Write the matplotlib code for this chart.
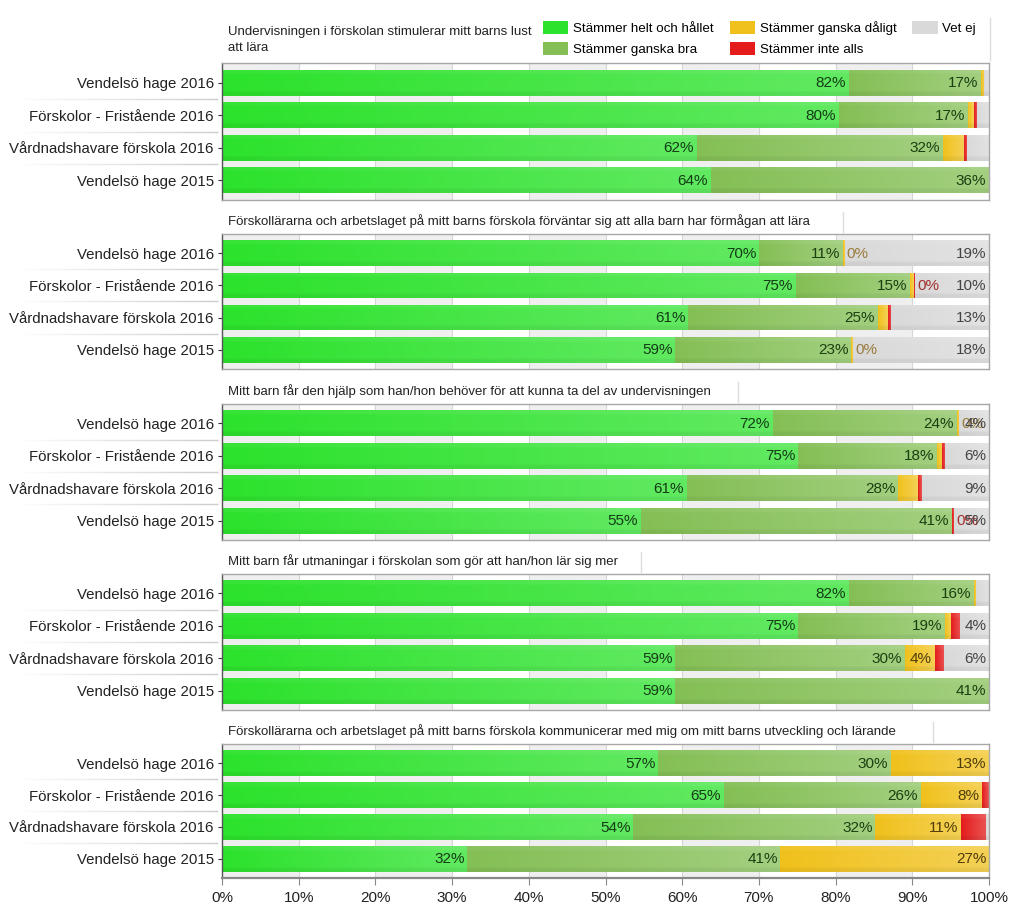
import numpy as np
import matplotlib
matplotlib.use("Agg")
import matplotlib.pyplot as plt
from matplotlib.patches import Patch
from matplotlib.transforms import blended_transform_factory
from matplotlib.collections import LineCollection
from matplotlib.colors import to_rgb

plt.rcParams['font.family'] = ['Liberation Sans', 'DejaVu Sans']

# ---------------- data ----------------
categories = ["Vendelsö hage 2016", "Förskolor - Fristående 2016",
              "Vårdnadshavare förskola 2016", "Vendelsö hage 2015"]
series_names = ["Stämmer helt och hållet", "Stämmer ganska bra",
                "Stämmer ganska dåligt", "Stämmer inte alls", "Vet ej"]

titles = [
    "Undervisningen i förskolan stimulerar mitt barns lust\natt lära",
    "Förskollärarna och arbetslaget på mitt barns förskola förväntar sig att alla barn har förmågan att lära",
    "Mitt barn får den hjälp som han/hon behöver för att kunna ta del av undervisningen",
    "Mitt barn får utmaningar i förskolan som gör att han/hon lär sig mer",
    "Förskollärarna och arbetslaget på mitt barns förskola kommunicerar med mig om mitt barns utveckling och lärande",
]

# values per question (rows follow `categories`)
q1_helt   = [81.7, 80.4, 61.9, 63.7]
q1_bra    = [17.2, 16.9, 32.1, 36.3]
q1_daligt = [0.4, 0.7, 2.7, 0.0]
q1_inte   = [0.0, 0.5, 0.4, 0.0]
q1_vetej  = [0.7, 1.5, 2.9, 0.0]

q2_helt   = [70.0, 74.8, 60.8, 59.1]
q2_bra    = [10.9, 14.9, 24.7, 22.9]
q2_daligt = [0.3, 0.5, 1.3, 0.3]
q2_inte   = [0.0, 0.2, 0.4, 0.0]
q2_vetej  = [18.8, 9.6, 12.8, 17.7]

q3_helt   = [71.8, 75.1, 60.6, 54.6]
q3_bra    = [24.0, 18.1, 27.6, 40.6]
q3_daligt = [0.3, 0.7, 2.5, 0.0]
q3_inte   = [0.0, 0.4, 0.5, 0.3]
q3_vetej  = [3.9, 5.7, 8.8, 4.5]

q4_helt   = [81.7, 75.1, 59.1, 59.1]
q4_bra    = [16.3, 19.2, 29.9, 40.9]
q4_daligt = [0.3, 0.7, 3.9, 0.0]
q4_inte   = [0.0, 1.2, 1.2, 0.0]
q4_vetej  = [1.7, 3.8, 5.9, 0.0]

q5_helt   = [56.9, 65.4, 53.6, 32.0]
q5_bra    = [30.3, 25.7, 31.6, 40.8]
q5_daligt = [12.8, 8.0, 11.1, 27.2]
q5_inte   = [0.0, 0.9, 3.3, 0.0]
q5_vetej  = [0.0, 0.0, 0.4, 0.0]

questions = [
    [q1_helt, q1_bra, q1_daligt, q1_inte, q1_vetej],
    [q2_helt, q2_bra, q2_daligt, q2_inte, q2_vetej],
    [q3_helt, q3_bra, q3_daligt, q3_inte, q3_vetej],
    [q4_helt, q4_bra, q4_daligt, q4_inte, q4_vetej],
    [q5_helt, q5_bra, q5_daligt, q5_inte, q5_vetej],
]

# small segments that still carry a "0%" label (question, row, series)
zero_labels = [(1, 0, 2), (1, 1, 3), (1, 3, 2), (2, 0, 2), (2, 3, 3)]

xticks = list(range(0, 101, 10))
xticklabels = [f"{t}%" for t in xticks]

# ---------------- style ----------------
series_colors = ["#2ce22c", "#84bf55", "#f0c11c", "#e41c1c", "#d9d9d9"]
label_colors = ["#143c16", "#1c3f12", "#4f3c0a", "#6e1414", "#444444"]
zero_colors = {2: "#9a7b3c", 3: "#a3302c"}

W, H = 1024, 917
fig = plt.figure(figsize=(W / 100, H / 100), dpi=100)
fig.patch.set_facecolor("white")

ax_left, ax_right = 222, 989
panel_tops = [63, 234, 404, 574, 744]
panel_bottoms = [200, 369, 540, 710, 878]
sep_x = [990, 843, 738, 641, 933]


def lighten(c, t):
    r = np.array(to_rgb(c))
    return r + (1 - r) * t


def gradient_img(c):
    n = 64
    h = np.linspace(0, 1, n)
    v = np.linspace(0, 1, 12)
    img = np.zeros((len(v), n, 4))
    for k, vv in enumerate(v):
        for m, hh in enumerate(h):
            t = 0.25 * hh + (0.05 if vv < 0.15 else 0.0)
            col = lighten(c, t)
            if vv > 0.9:
                col = col * 0.95
            img[k, m, :3] = col
            img[k, m, 3] = 1.0
    return img


grad_cache = {c: gradient_img(c) for c in series_colors}

axes = []
for qi, vals in enumerate(questions):
    top, bot = panel_tops[qi], panel_bottoms[qi]
    ax = fig.add_axes([ax_left / W, 1 - bot / H, (ax_right - ax_left) / W, (bot - top) / H])
    axes.append(ax)
    ax.set_facecolor("white")
    for k in range(0, 100, 20):
        ax.axvspan(k, k + 10, color="#efefef", zorder=0, lw=0)
    for t in xticks:
        ax.axvline(t, color="#d6d6d6", lw=0.8, zorder=0.5)

    left = np.zeros(len(categories))
    bh = 0.8
    for j, series in enumerate(vals):
        series = np.array(series, dtype=float)
        bars = ax.barh(np.arange(len(categories)), series, left=left, height=bh,
                       color=series_colors[j], edgecolor="none", zorder=2)
        for i, (p, v) in enumerate(zip(bars.patches, series)):
            if v <= 0:
                continue
            im = ax.imshow(grad_cache[series_colors[j]], extent=[left[i], left[i] + v, i + bh / 2, i - bh / 2],
                           aspect="auto", zorder=2.5, interpolation="bilinear")
            im.set_clip_path(p)
            if v >= 3.5:
                ax.text(left[i] + v - 0.35, i + 0.02, f"{int(v + 0.5)}%", ha="right", va="center",
                        fontsize=11, color=label_colors[j], zorder=5)
            if (qi, i, j) in zero_labels:
                ax.text(left[i] + v + 0.25, i + 0.02, f"{int(v + 0.5)}%", ha="left", va="center",
                        fontsize=11, color=zero_colors[j], zorder=5)
        left += series

    ax.set_xlim(0, 100)
    ax.set_ylim(len(categories) - 0.4, -0.6)
    ax.set_yticks(np.arange(len(categories)))
    ax.set_yticklabels(categories)
    ax.tick_params(axis="y", length=3, width=0.8, color="#333333", labelsize=10.8,
                   labelcolor="#222222", pad=3)
    ax.set_xticks(xticks)
    if qi == len(questions) - 1:
        ax.set_xticklabels(xticklabels)
        ax.tick_params(axis="x", length=5, width=0.8, color="#888888", labelsize=11,
                       labelcolor="#222222", pad=4)
    else:
        ax.set_xticklabels([])
        ax.tick_params(axis="x", length=0)
    for s in ["top", "right", "bottom"]:
        ax.spines[s].set_color("#a8a8a8")
        ax.spines[s].set_linewidth(1.0)
    ax.spines["left"].set_color("#555555")
    ax.spines["left"].set_linewidth(1.0)
    if qi == len(questions) - 1:
        ax.spines["bottom"].set_color("#888888")
        ax.spines["bottom"].set_linewidth(1.6)

    # faint separators between category labels
    tr = blended_transform_factory(fig.transFigure, ax.transData)
    xs = np.linspace(20 / W, 218 / W, 31)
    for b in range(len(categories) - 1):
        yb = b + 0.5
        segs = [[(xs[k], yb), (xs[k + 1], yb)] for k in range(len(xs) - 1)]
        alphas = np.linspace(0.05, 1.0, len(segs))
        cols = [(0.80, 0.80, 0.80, a) for a in alphas]
        lc = LineCollection(segs, colors=cols, linewidths=1.0, transform=tr, clip_on=False)
        ax.add_collection(lc)

    # question title
    if qi == 0:
        fig.text(228 / W, 1 - 40 / H, titles[qi], fontsize=9.5, va="center", ha="left",
                 color="#222222", linespacing=1.4)
        fig.add_artist(plt.Line2D([sep_x[qi] / W] * 2, [1 - 18 / H, 1 - 60 / H],
                                  color="#dddddd", lw=1))
    else:
        fig.text(228 / W, 1 - (top - 13) / H, titles[qi], fontsize=9.5, va="center", ha="left",
                 color="#222222")
        fig.add_artist(plt.Line2D([sep_x[qi] / W] * 2, [1 - (top - 22) / H, 1 - (top - 2) / H],
                                  color="#dddddd", lw=1))

# legend
handles = [Patch(facecolor=c, edgecolor="none") for c in series_colors]
fig.legend(handles, series_names, ncol=3, loc="upper left",
           bbox_to_anchor=(543 / W, 1 - 21 / H), frameon=False, fontsize=9.6,
           handlelength=1.9, handleheight=1.15, handletextpad=0.35,
           columnspacing=1.2, labelspacing=0.5, borderaxespad=0, borderpad=0)

fig.savefig("out.png", dpi=100, facecolor="white")
